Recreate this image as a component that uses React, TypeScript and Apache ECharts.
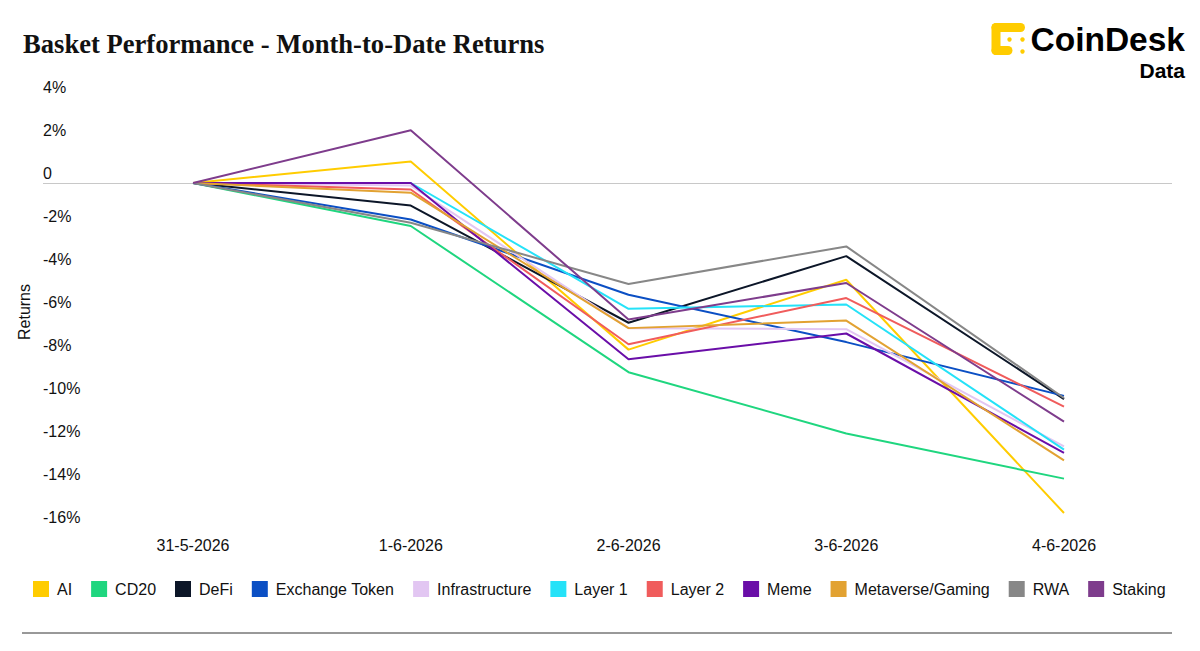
import { useEffect, useRef } from 'react';
import * as echarts from 'echarts';

const dates = ['31-5-2026', '1-6-2026', '2-6-2026', '3-6-2026', '4-6-2026'];

const ai = [0, 1.0, -7.75, -4.5, -15.35];
const cd20 = [0, -2.0, -8.8, -11.65, -13.75];
const defi = [0, -1.05, -6.5, -3.4, -10.05];
const exchangeToken = [0, -1.7, -5.2, -7.4, -9.9];
const infrastructure = [0, -0.12, -6.75, -6.8, -12.25];
const layer1 = [0, 0, -5.85, -5.65, -12.4];
const layer2 = [0, -0.3, -7.5, -5.35, -10.4];
const meme = [0, 0, -8.2, -7.0, -12.55];
const metaverse = [0, -0.45, -6.75, -6.4, -12.9];
const rwa = [0, -1.85, -4.7, -2.95, -10.0];
const staking = [0, 2.45, -6.35, -4.65, -11.1];

const seriesNames = ['AI', 'CD20', 'DeFi', 'Exchange Token', 'Infrastructure', 'Layer 1', 'Layer 2', 'Meme', 'Metaverse/Gaming', 'RWA', 'Staking'];
const seriesValues = [ai, cd20, defi, exchangeToken, infrastructure, layer1, layer2, meme, metaverse, rwa, staking];
const seriesColors = ['#FFCC00', '#1FD67F', '#0C1628', '#0B4FC4', '#E2C6F2', '#25E2F8', '#F05C5C', '#6A0EA8', '#E2A232', '#878787', '#7E3C8C'];

const yTicks = [-16, -14, -12, -10, -8, -6, -4, -2, 0, 2, 4];

const SANS = '"Liberation Sans", Arial, sans-serif';

export default function App() {
  const ref = useRef<HTMLDivElement>(null);

  useEffect(() => {
    document.body.style.margin = '0';
    if (!ref.current) return undefined;
    const chart = echarts.init(ref.current, undefined, { renderer: 'svg' });

    const option: echarts.EChartsOption = {
      animation: false,
      backgroundColor: '#ffffff',
      textStyle: { fontFamily: SANS },
      title: {
        text: 'Basket Performance - Month-to-Date Returns',
        left: 18,
        top: 25,
        textStyle: { fontFamily: '"Liberation Serif", "DejaVu Serif", serif', fontWeight: 'bold', fontSize: 26.6, color: '#111111' },
      },
      legend: {
        left: 28,
        top: 576,
        icon: 'rect',
        itemWidth: 16,
        itemHeight: 16,
        itemGap: 19,
        selectedMode: false,
        data: seriesNames,
        textStyle: { fontSize: 16, color: '#111111', padding: [0, 0, 0, 3] },
      },
      grid: { left: 43, right: 28, top: 97, bottom: 651 - 527 },
      xAxis: {
        type: 'value',
        min: -0.689,
        max: 4.496,
        axisLine: { show: false },
        axisTick: { show: false },
        splitLine: { show: false },
        axisLabel: {
          customValues: [0, 1, 2, 3, 4],
          formatter: (v: number) => dates[Math.round(v)] ?? '',
          fontSize: 16,
          color: '#111111',
          margin: 10,
        },
      },
      yAxis: {
        type: 'value',
        min: -16,
        max: 4,
        interval: 2,
        name: 'Returns',
        nameLocation: 'middle',
        nameGap: 8,
        nameTextStyle: { fontSize: 16, color: '#111111' },
        axisLine: { show: false },
        axisTick: { show: false },
        splitLine: {
          show: true,
          lineStyle: { width: 1, color: yTicks.map((t) => (t === 0 ? '#C8C8C8' : 'rgba(0,0,0,0)')) },
        },
        axisLabel: {
          inside: true,
          margin: 0,
          align: 'left',
          verticalAlign: 'bottom',
          padding: [0, 0, 2, 0],
          fontSize: 16,
          color: '#111111',
          formatter: (v: number) => (v === 0 ? '0' : `${v}%`),
        },
      },
      series: seriesNames.map((name, i) => ({
        name,
        type: 'line',
        data: seriesValues[i].map((v, j) => [j, v]),
        showSymbol: false,
        symbol: 'none',
        lineStyle: { width: 2, color: seriesColors[i] },
        itemStyle: { color: seriesColors[i] },
      })),
      graphic: [
        {
          type: 'line',
          shape: { x1: 22, y1: 633, x2: 1172, y2: 633 },
          style: { stroke: '#333333', lineWidth: 1 },
        },
        {
          type: 'group',
          children: [
            { type: 'rect', shape: { x: 991.5, y: 23, width: 33.5, height: 9, r: 4.5 }, style: { fill: '#FFCC00' } },
            { type: 'rect', shape: { x: 991.5, y: 23, width: 9, height: 32, r: 4.5 }, style: { fill: '#FFCC00' } },
            { type: 'rect', shape: { x: 991.5, y: 46, width: 21, height: 9, r: 4.5 }, style: { fill: '#FFCC00' } },
            { type: 'circle', shape: { cx: 1009.5, cy: 39.5, r: 2.2 }, style: { fill: '#FFCC00' } },
            { type: 'circle', shape: { cx: 1022.5, cy: 39.5, r: 2.2 }, style: { fill: '#FFCC00' } },
            { type: 'circle', shape: { cx: 1022.5, cy: 51.5, r: 2.2 }, style: { fill: '#FFCC00' } },
          ],
        },
        {
          type: 'text',
          x: 1185,
          y: 39,
          style: { text: 'CoinDesk', fontFamily: SANS, fontWeight: 'bold', fontSize: 33.5, fill: '#000000', align: 'right', verticalAlign: 'middle' },
        },
        {
          type: 'text',
          x: 1185,
          y: 70,
          style: { text: 'Data', fontFamily: SANS, fontWeight: 'bold', fontSize: 21, fill: '#000000', align: 'right', verticalAlign: 'middle' },
        },
      ],
    };

    chart.setOption(option);
    return () => chart.dispose();
  }, []);

  return <div ref={ref} style={{ width: 1200, height: 651 }} />;
}
